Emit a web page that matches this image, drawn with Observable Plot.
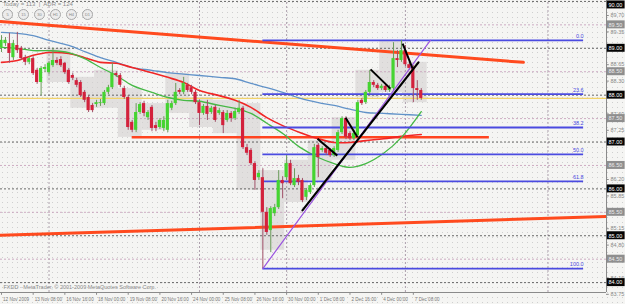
<!DOCTYPE html>
<html><head><meta charset="utf-8">
<script src="https://cdn.jsdelivr.net/npm/d3@7"></script>
<script src="https://cdn.jsdelivr.net/npm/@observablehq/plot@0.6"></script>
<style>
body{margin:0;background:#fff;}
#wrap{position:relative;width:625px;height:304px;overflow:hidden;font-family:"Liberation Sans",Arial,sans-serif;
 background:radial-gradient(circle,#cfcfcf 0.45px,transparent 0.7px) 0 0/5px 5px,#f5f5f3;}
#hud{position:absolute;left:3px;top:1px;font-size:6px;color:#8c8c8c;white-space:nowrap;}
#btns{position:absolute;left:2px;top:9px;display:flex;gap:5px;}
#btns span{width:9px;height:9px;border:1px solid #a8a8a8;border-radius:50%;background:#ececec;font-size:4px;color:#888;display:flex;align-items:center;justify-content:center;box-sizing:content-box;}
svg{display:block;}
</style></head>
<body><div id="wrap"><div id="chart"></div>
<div id="hud">Today = 113 &nbsp;|&nbsp; ADR = 124</div>
<div id="btns"></div></div>
<script>
// ---------- data ----------
const open = [89.00,89.10,89.10,88.80,89.06,89.00,88.80,88.70,88.78,88.53,
88.27,88.55,88.48,88.63,88.74,88.76,88.68,88.53,88.42,88.31,
88.27,88.06,87.95,87.78,87.80,87.82,87.82,88.06,88.16,88.46,
88.42,88.14,87.95,87.42,87.25,87.63,87.82,87.52,87.74,87.35,
87.31,87.29,87.25,87.72,87.82,88.10,88.06,88.21,88.16,88.06,
87.84,87.61,87.76,87.63,87.74,87.61,87.63,87.46,87.61,87.50,
87.63,87.72,86.88,86.82,86.54,86.24,86.24,85.50,85.11,85.47,
85.60,86.18,86.24,86.54,86.07,86.22,86.18,85.82,85.92,86.07,
86.93,86.82,86.86,86.82,86.71,86.82,87.20,87.50,87.18,87.07,
87.14,87.89,87.84,88.06,88.27,88.21,88.14,88.19,88.10,88.14,
88.78,88.74,88.95,88.65,88.59,88.14,88.10];
const high = [89.27,89.23,89.32,89.17,89.34,89.04,88.85,88.82,88.82,88.57,
88.61,88.65,88.72,89.00,88.80,88.82,88.70,88.57,88.46,88.36,
88.31,88.10,87.99,87.82,87.89,87.91,88.10,88.21,88.68,88.50,
88.46,88.19,87.99,87.46,87.82,87.84,87.87,87.67,87.78,87.42,
87.50,87.54,87.89,87.87,88.25,88.14,88.38,88.25,88.21,88.10,
87.89,87.80,87.89,87.76,87.78,87.72,87.67,87.67,87.65,87.72,
87.89,87.76,86.95,86.86,86.58,86.39,86.43,85.60,85.62,85.67,
86.39,86.26,86.71,86.61,86.43,86.29,86.22,86.01,86.11,86.95,
86.97,86.90,86.90,86.86,86.90,87.25,87.54,87.54,87.22,87.25,
87.89,87.93,88.10,88.53,88.31,88.25,88.23,88.23,88.21,89.12,
88.95,89.17,89.06,88.70,88.63,88.31,88.14];
const low = [88.91,89.04,88.68,88.74,88.89,88.74,88.63,88.65,88.42,88.23,
87.99,88.48,88.44,88.59,88.63,88.59,88.44,88.23,88.31,88.16,
87.95,87.84,87.63,87.63,87.74,87.76,87.78,88.01,88.12,88.38,
88.16,87.91,87.25,87.20,87.20,87.59,87.54,87.46,87.22,87.22,
87.27,87.22,87.20,87.67,87.78,88.01,88.01,88.06,88.01,87.80,
87.35,87.57,87.46,87.59,87.42,87.57,87.18,87.42,87.42,87.46,
87.59,86.84,86.71,86.50,85.97,86.18,84.30,85.01,84.64,85.41,
85.56,85.79,86.18,86.07,86.03,86.07,85.71,85.75,85.88,86.03,
86.24,86.78,86.71,86.67,86.67,86.78,87.16,87.05,87.03,87.03,
87.10,87.78,87.80,88.01,88.16,88.10,88.10,88.06,88.06,88.10,
88.59,88.70,88.61,88.53,87.84,87.89,87.89];
const close = [89.17,89.17,88.89,89.10,88.95,88.78,88.70,88.78,88.46,88.27,
88.57,88.59,88.68,88.74,88.68,88.63,88.48,88.27,88.36,88.21,
87.99,87.89,87.67,87.67,87.84,87.84,88.06,88.16,88.46,88.42,
88.21,87.95,87.31,87.25,87.63,87.80,87.61,87.63,87.29,87.29,
87.46,87.46,87.82,87.82,88.06,88.06,88.25,88.10,88.06,87.84,
87.61,87.76,87.59,87.72,87.46,87.67,87.35,87.61,87.50,87.65,
87.72,86.88,86.76,86.54,86.18,86.33,85.50,85.07,85.58,85.60,
86.18,86.11,86.54,86.11,86.22,86.14,85.75,85.97,86.07,86.88,
86.67,86.86,86.76,86.71,86.86,87.20,87.50,87.10,87.07,87.18,
87.84,87.82,88.06,88.27,88.21,88.14,88.19,88.10,88.16,88.78,
88.74,88.95,88.65,88.57,88.14,88.10,87.93];

// time axis labels (one every 8 four-hour bars)
const timeLabels = ["12 Nov 2009","13 Nov 08:00","16 Nov 16:00","18 Nov 00:00","19 Nov 08:00","20 Nov 16:00","24 Nov 00:00","25 Nov 08:00","26 Nov 16:00","30 Nov 00:00","1 Dec 08:00","2 Dec 16:00","4 Dec 00:00","7 Dec 08:00"];
const timeLabelBars = [0,8,16,24,32,40,48,56,64,72,80,88,96,104];
const gridBars = [12,50,72,102,138];

// price axis (labels that are not hidden by the level boxes)
const priceTicks = [89.70,89.35,88.65,88.30,87.60,87.25,86.20,85.85,85.15,84.80,84.10,83.75];
const wholeLevels = [90,89,88,87,86,85,84];
const halfLevels = [89.5,88.5,87.5,86.5,85.5,84.5];

// daily range boxes
const boxStart = [12,18,24,30,36,42,48,54,60,66,72,78,84,90,96,102];
const boxEnd   = [17,23,29,35,41,47,53,59,65,71,77,83,89,95,101,107];
const boxTop   = [89.00,88.38,88.53,88.14,87.82,88.46,87.95,87.89,87.82,86.39,86.61,87.03,87.52,88.53,89.17,88.70];
const boxBot   = [88.27,87.72,87.72,87.10,87.25,87.61,87.31,87.18,85.97,84.69,85.71,86.18,86.61,87.95,88.06,87.84];

// moving averages
const maBars  = [0,4,8,12,17,21,25,29,33,38,42,46,50,55,59,63,67,71,75.5,80,84,88,92,96.5,101,106];
const maBlue  = [89.34,89.32,89.27,89.17,89.06,88.93,88.80,88.70,88.59,88.53,88.48,88.45,88.42,88.38,88.35,88.25,88.16,88.06,87.93,87.84,87.78,87.70,87.63,87.61,87.59,87.57];
const maRed   = [88.70,88.74,88.85,88.91,88.89,88.80,88.70,88.68,88.59,88.48,88.38,88.27,88.10,87.99,87.89,87.74,87.52,87.35,87.20,87.07,86.99,86.99,87.03,87.07,87.12,87.16];
const maGreen = [89.02,89.00,88.95,88.95,88.91,88.78,88.59,88.42,88.21,88.06,87.95,87.89,87.87,87.78,87.72,87.61,87.40,87.18,86.88,86.67,86.54,86.46,86.54,86.76,87.10,87.65];

// drawn objects
const topTrendBars = [-0.25,131.8], topTrendPrices = [89.57,88.70];
const lowTrendBars = [-0.25,152.8], lowTrendPrices = [85.01,85.41];
const supportBars = [33,123.2], supportPrice = 87.10;
const purpleBars = [66,108.3], purplePrices = [84.30,89.17];
const blackTrendBars = [76,105.3], blackTrendPrices = [85.54,88.70];
const zigFromBar = [79.8,86.9,93.2,101.3], zigFromPrice = [87.07,87.52,88.55,89.10];
const zigToBar   = [84.8,89.9,98.2,103.8], zigToPrice   = [86.71,87.10,88.14,88.57];
const fibRatios = [0,0.236,0.382,0.5,0.618,1];
const fibLabels = ["0.0","23.6","38.2","50.0","61.8","100.0"];
const fibHigh = 89.17, fibLow = 84.30, fibStartBar = 66, fibEndBar = 147;
const buttons = ["5","15","30","H1","H4","D1"];
const copyright = "FXDD - MetaTrader, © 2001-2009 MetaQuotes Software Corp.";

// ---------- build ----------
const candles = open.map((o,i)=>({i,o,h:high[i],l:low[i],c:close[i]}));
const boxes = boxStart.map((s,k)=>({s,e:boxEnd[k],t:boxTop[k],b:boxBot[k]}));
const ma = maBars.map((b,k)=>({b,blue:maBlue[k],red:maRed[k],green:maGreen[k]}));
const fib = fibRatios.map((r,k)=>({p: fibHigh - r*(fibHigh-fibLow), label: fibLabels[k]}));
const line2 = (bx,py)=>bx.map((b,k)=>({b,p:py[k]}));
const zig = zigFromBar.map((b,k)=>({x1:b,y1:zigFromPrice[k],x2:zigToBar[k],y2:zigToPrice[k]}));
const lastClose = close[close.length-1];

const X0 = -0.2525, X1 = 152.78, Y0 = 83.789, Y1 = 90.02;
const GREEN="#45d431", RED="#d3213c", FIB="#4b4be0";
const HB = 0.085;                       // half height of a label box, in price units
const boxY = d => Math.min(d, Y1 - HB - 0.01);   // keep top label box inside the frame

const chart = Plot.plot({
  width: 625, height: 304,
  marginLeft: 0, marginRight: 19, marginTop: 0, marginBottom: 12,
  x: {domain: [X0, X1], axis: null},
  y: {domain: [Y0, Y1], axis: null},
  style: {background: "transparent", fontFamily: "Liberation Sans, Arial, sans-serif", overflow: "visible"},
  marks: [
    Plot.rect(boxes, {x1: d=>d.s-0.5, x2: d=>d.e+0.5, y1: "b", y2: "t", fill: "#d4d0d0", fillOpacity: 0.6}),
    Plot.ruleX(gridBars, {y1: Y0, y2: Y1, stroke: "#a596a5", strokeDasharray: "2,2", strokeWidth: 0.9}),
    Plot.ruleY(halfLevels, {x1: X0, x2: X1, stroke: "#c49ab8", strokeDasharray: "2,2", strokeWidth: 0.8}),
    Plot.ruleY(wholeLevels, {x1: X0, x2: X1, stroke: "#444", strokeDasharray: "2,2", strokeWidth: 0.8}),
    Plot.ruleY([lastClose], {x1: X0, x2: X1, stroke: "#f2d36a", strokeWidth: 1.2}),
    Plot.line(line2(lowTrendBars, lowTrendPrices), {x: "b", y: "p", stroke: "#ff4a1e", strokeWidth: 3, clip: true}),
    Plot.line(line2(topTrendBars, topTrendPrices), {x: "b", y: "p", stroke: "#ff4a1e", strokeWidth: 3, clip: true}),
    Plot.ruleY([supportPrice], {x1: supportBars[0], x2: supportBars[1], stroke: "#ff4420", strokeWidth: 2.5}),
    Plot.line(ma, {x: "b", y: "blue", stroke: "#6192c8", strokeWidth: 1.3, curve: "catmull-rom", clip: true}),
    Plot.line(ma, {x: "b", y: "red", stroke: "#f02626", strokeWidth: 1.6, curve: "catmull-rom", clip: true}),
    Plot.line(ma, {x: "b", y: "green", stroke: "#46b846", strokeWidth: 1.3, curve: "catmull-rom", clip: true}),
    Plot.ruleY(fib, {y: "p", x1: fibStartBar, x2: fibEndBar, stroke: FIB, strokeWidth: 1.8}),
    Plot.text(fib, {x: fibEndBar, y: "p", text: "label", textAnchor: "end", dy: -4, fill: FIB, fontSize: 5.5}),
    Plot.ruleX(candles, {x: "i", y1: "l", y2: "h", stroke: d=>d.c>=d.o?"#6a9a5a":"#a05068", strokeWidth: 1}),
    Plot.rect(candles, {x1: d=>d.i-0.4, x2: d=>d.i+0.4, y1: d=>Math.min(d.o,d.c), y2: d=>Math.max(d.o,d.c), fill: d=>d.c>=d.o?GREEN:RED}),
    Plot.line(line2(purpleBars, purplePrices), {x: "b", y: "p", stroke: "#9b55e0", strokeWidth: 1.2}),
    Plot.line(line2(blackTrendBars, blackTrendPrices), {x: "b", y: "p", stroke: "#000", strokeWidth: 2.2}),
    Plot.link(zig, {x1: "x1", y1: "y1", x2: "x2", y2: "y2", stroke: "#000", strokeWidth: 2}),
    // right price scale
    Plot.ruleX([X1], {y1: Y0, y2: Y1, stroke: "#8a8a8a", strokeWidth: 1}),
    Plot.ruleY(priceTicks, {x1: X1, x2: X1+0.7, stroke: "#8a8a8a"}),
    Plot.text(priceTicks, {x: X1, y: d=>d, text: d=>d.toFixed(2), dx: 4, textAnchor: "start", fontSize: 5.5, fill: "#8a8a8a"}),
    Plot.rect(halfLevels, {x1: X1+0.2, x2: X1+4.7, y1: d=>boxY(d)-HB, y2: d=>boxY(d)+HB, fill: "#8e8e8e"}),
    Plot.text(halfLevels, {x: X1+0.5, y: boxY, text: d=>d.toFixed(2), textAnchor: "start", fontSize: 5.5, fill: "#ececec"}),
    Plot.rect(wholeLevels, {x1: X1+0.2, x2: X1+4.7, y1: d=>boxY(d)-HB, y2: d=>boxY(d)+HB, fill: "#050505"}),
    Plot.text(wholeLevels, {x: X1+0.5, y: boxY, text: d=>d.toFixed(2), textAnchor: "start", fontSize: 5.5, fill: "#ffffff"}),
    // bottom time scale
    Plot.ruleY([Y0], {x1: X0, x2: X1, stroke: "#8a8a8a"}),
    Plot.ruleX(timeLabelBars, {y1: Y0, y2: Y0-0.06, stroke: "#8a8a8a"}),
    Plot.text(timeLabelBars, {x: d=>d, y: Y0, text: (d,k)=>timeLabels[k], dx: 1.5, dy: 7, textAnchor: "start", fontSize: 4.6, fill: "#7a7a7a"}),
    Plot.text([copyright], {frameAnchor: "bottom-left", dx: 3, dy: -4, fontSize: 5.5, fill: "#8a8a8a", textAnchor: "start"})
  ]
});
document.getElementById("chart").appendChild(chart);
const bt = document.getElementById("btns");
buttons.forEach(b=>{const s=document.createElement("span"); s.textContent=b; bt.appendChild(s);});
</script></body></html>
